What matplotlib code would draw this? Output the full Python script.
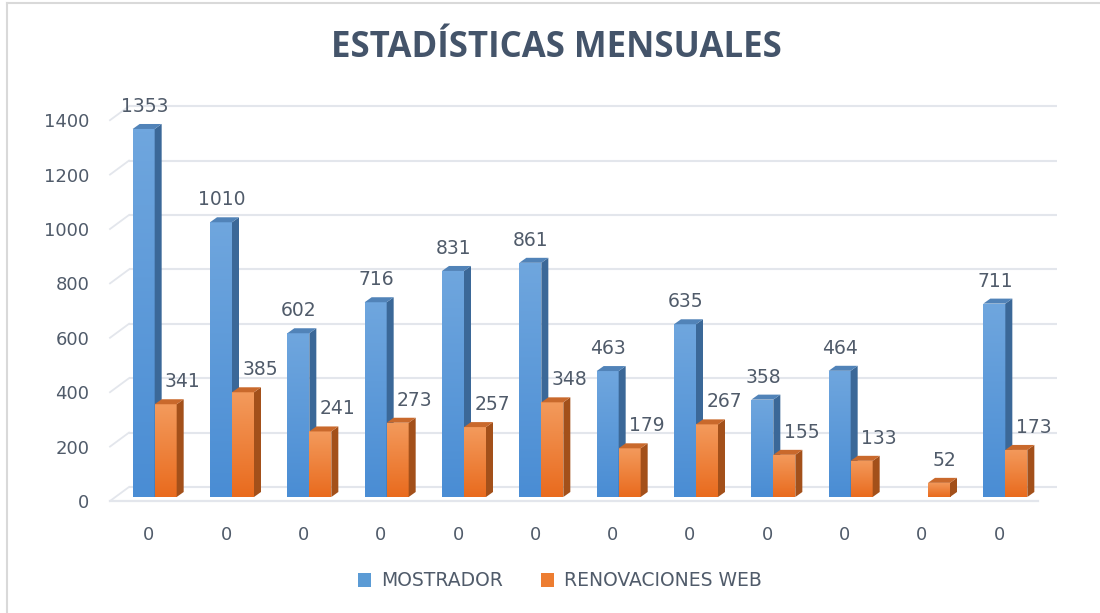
import numpy as np
import matplotlib
matplotlib.use("Agg")
import matplotlib.pyplot as plt
from matplotlib.patches import Rectangle, Polygon, Patch
from matplotlib.colors import LinearSegmentedColormap
from matplotlib.lines import Line2D

# ---------------- data ----------------
categories = ["0"] * 12
series_names = ["MOSTRADOR", "RENOVACIONES WEB"]
mostrador = [1353, 1010, 602, 716, 831, 861, 463, 635, 358, 464, np.nan, 711]
renovaciones = [341, 385, 241, 273, 257, 348, 179, 267, 155, 133, 52, 173]
y_ticks = [0, 200, 400, 600, 800, 1000, 1200, 1400]
title = "ESTADÍSTICAS MENSUALES"

# ---------------- style ----------------
W, H = 1100, 613
DPI = 100
text_color = "#505b6a"
grid_color = "#e3e6ec"
font = "DejaVu Sans"

fig = plt.figure(figsize=(W / DPI, H / DPI), dpi=DPI)
fig.patch.set_facecolor("white")

# front plane of the 3D plot in pixels
left_px, right_px, base_px = 110, 1038, 501
px_per_unit = 0.272
ymax = 1400
ax = fig.add_axes([left_px / W, (H - base_px) / H,
                   (right_px - left_px) / W, ymax * px_per_unit / H])
ax.set_xlim(-0.5, len(categories) - 0.5)
ax.set_ylim(0, ymax)
ax.set_facecolor("none")
for s in ax.spines.values():
    s.set_visible(False)

px_x = (right_px - left_px) / len(categories)  # pixels per category


def dx(p):
    return p / px_x


def dy(p):
    return p / px_per_unit


# back wall offset
bx, by = dx(19), dy(14)
x0, x1 = -0.5, len(categories) - 0.5
for t in y_ticks:
    ax.plot([x0 + bx, x1 + bx], [t + by, t + by], color=grid_color, lw=1.5,
            clip_on=False, zorder=0, solid_capstyle="butt")
    ax.plot([x0, x0 + bx], [t, t + by], color=grid_color, lw=1.3,
            clip_on=False, zorder=0)
# floor front line
ax.plot([x0, x1], [0, 0], color=grid_color, lw=1.6, clip_on=False, zorder=0)

ax.set_yticks(y_ticks)
ax.set_yticklabels([str(t) for t in y_ticks], fontsize=13, color=text_color,
                   fontfamily=font)
ax.tick_params(axis="y", length=0, pad=15)
ax.set_xticks(range(len(categories)))
ax.set_xticklabels(categories, fontsize=13, color=text_color, fontfamily=font)
ax.tick_params(axis="x", length=0, pad=18)

# bars
bar_w = dx(22)
grp_off = dx(6)
base = dy(4)
ddx, ddy = dx(7), dy(5)

styles = [
    dict(top="#6fa6de", bottom="#4a8dd4", side="#3b6898", cap="#5183b8"),
    dict(top="#f39a5c", bottom="#e96b1e", side="#a3501a", cap="#c9692c"),
]

grad = np.linspace(1, 0, 64).reshape(-1, 1)


def draw_bar(xl, v, st, z):
    if v is None or np.isnan(v):
        return
    cmap = LinearSegmentedColormap.from_list("g", [st["bottom"], st["top"]])
    rect = Rectangle((xl, base), bar_w, v, facecolor="none", edgecolor="none",
                     zorder=z)
    ax.add_patch(rect)
    im = ax.imshow(grad, extent=[xl, xl + bar_w, base, base + v], cmap=cmap,
                   aspect="auto", zorder=z, interpolation="bilinear")
    im.set_clip_path(rect)
    side = Polygon([(xl + bar_w, base), (xl + bar_w + ddx, base + ddy),
                    (xl + bar_w + ddx, base + v + ddy), (xl + bar_w, base + v)],
                   closed=True, facecolor=st["side"], edgecolor="none", zorder=z)
    ax.add_patch(side)
    cap = Polygon([(xl, base + v), (xl + ddx, base + v + ddy),
                   (xl + bar_w + ddx, base + v + ddy), (xl + bar_w, base + v)],
                  closed=True, facecolor=st["cap"], edgecolor="none", zorder=z)
    ax.add_patch(cap)


for i in range(len(categories)):
    xb = i + grp_off - bar_w
    xo = i + grp_off
    draw_bar(xb, mostrador[i], styles[0], 2 + i * 0.01)
    draw_bar(xo, renovaciones[i], styles[1], 2.005 + i * 0.01)

# data labels
for i in range(len(categories)):
    vb = mostrador[i]
    vo = renovaciones[i]
    if not np.isnan(vb):
        ax.annotate(f"{vb:.0f}", (i + grp_off - bar_w / 2, base + vb),
                    xytext=(0.5, 22.5 * 0.72), textcoords="offset points",
                    ha="center", va="center", fontsize=13.5, color=text_color,
                    fontfamily=font, annotation_clip=False, zorder=5)
    shift = 17 if (not np.isnan(vb) and vb > vo) else 5
    ax.annotate(f"{vo:.0f}", (i + grp_off + bar_w / 2, base + vo),
                xytext=(shift * 0.72, 22.5 * 0.72), textcoords="offset points",
                ha="center", va="center", fontsize=13.5, color=text_color,
                fontfamily=font, annotation_clip=False, zorder=5)

# title
fig.text(556 / W, 1 - 48 / H, title, ha="center", va="center", fontsize=25,
         fontweight="bold", color="#44546a", fontfamily="Open Sans")

# legend
handles = [Patch(facecolor="#5b9bd5", edgecolor="none"),
           Patch(facecolor="#ed7d31", edgecolor="none")]
fig.legend(handles, series_names, loc="center", bbox_to_anchor=(560 / W, 1 - 581 / H),
           ncol=2, frameon=False, handlelength=0.7, handleheight=0.7,
           handletextpad=0.55, columnspacing=2.0, labelcolor=text_color,
           prop={"family": font, "size": 13.5})

# chart border
fig.add_artist(Line2D([7 / W, 1], [1 - 3 / H, 1 - 3 / H], color="#d9d9d9", lw=1.5,
                      transform=fig.transFigure))
fig.add_artist(Line2D([7 / W, 7 / W], [0, 1 - 3 / H], color="#d9d9d9", lw=1.5,
                      transform=fig.transFigure))

fig.savefig("out.png", dpi=DPI, facecolor="white")
